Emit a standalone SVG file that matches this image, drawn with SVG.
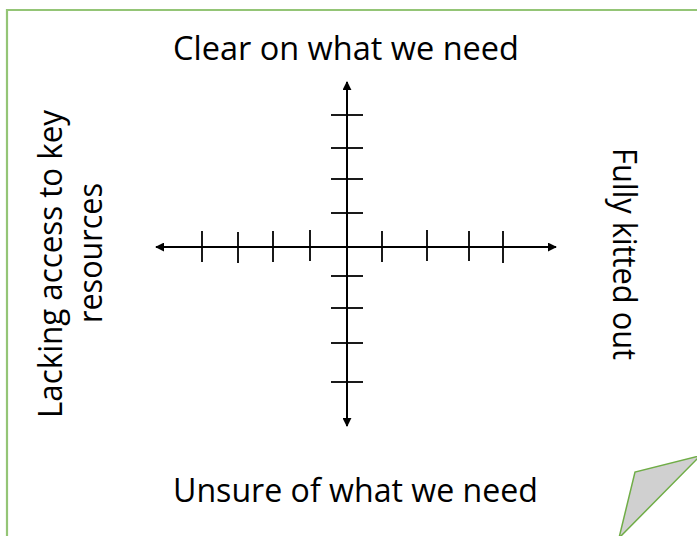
<svg xmlns="http://www.w3.org/2000/svg" width="697" height="536" viewBox="0 0 697 536">
<defs>
<style>
.lbl{font-family:"Open Sans","Liberation Sans",sans-serif;font-size:32px;fill:#000}
.axis{stroke:#000;stroke-width:2;fill:none}
.tick{stroke:#000;stroke-width:1.8;fill:none}
</style>
<marker id="arr" viewBox="0 0 10 10" refX="9" refY="5" markerWidth="4.5" markerHeight="4.5" orient="auto-start-reverse" markerUnits="strokeWidth">
<path d="M0,0 L10,5 L0,10 z" fill="#000"/>
</marker>
</defs>
<rect width="697" height="536" fill="#fff"/>
<g id="frame">
<path d="M7,540 L7,10 L700,10" fill="none" stroke="#94c576" stroke-width="2.2"/>
<polygon points="619,538 635,472 699,456 700,456" fill="#d0d0d0" stroke="#70ad47" stroke-width="1.5"/>
</g>
<g id="connectors">
<line class="axis" x1="156" y1="247" x2="556" y2="247" marker-start="url(#arr)" marker-end="url(#arr)"/>
<line class="axis" x1="347" y1="82" x2="347" y2="426" marker-start="url(#arr)" marker-end="url(#arr)"/>
<g id="ticks-x">
<line class="tick" x1="202" y1="231" x2="202" y2="262"/>
<line class="tick" x1="238" y1="232" x2="238" y2="263"/>
<line class="tick" x1="273" y1="231" x2="273" y2="262"/>
<line class="tick" x1="310" y1="230" x2="310" y2="261"/>
<line class="tick" x1="382" y1="231" x2="382" y2="262"/>
<line class="tick" x1="427" y1="230" x2="427" y2="261"/>
<line class="tick" x1="469" y1="231" x2="469" y2="261"/>
<line class="tick" x1="503" y1="231" x2="503" y2="263"/>
</g>
<g id="ticks-y">
<line class="tick" x1="331" y1="115" x2="363" y2="115"/>
<line class="tick" x1="331" y1="148" x2="363" y2="148"/>
<line class="tick" x1="331" y1="179" x2="363" y2="179"/>
<line class="tick" x1="331" y1="213" x2="363" y2="213"/>
<line class="tick" x1="331" y1="276" x2="363" y2="276"/>
<line class="tick" x1="331" y1="308" x2="363" y2="308"/>
<line class="tick" x1="331" y1="343" x2="363" y2="343"/>
<line class="tick" x1="331" y1="382" x2="363" y2="382"/>
</g>
</g>
<g id="top-label"><text class="lbl" x="173" y="60" textLength="346" lengthAdjust="spacingAndGlyphs">Clear on what we need</text></g>
<g id="bottom-label"><text class="lbl" x="173" y="502" textLength="365" lengthAdjust="spacingAndGlyphs">Unsure of what we need</text></g>
<g id="left-label">
<text class="lbl" transform="translate(62,418) rotate(-90)" x="0" y="0" textLength="308" lengthAdjust="spacingAndGlyphs">Lacking access to key</text>
<text class="lbl" transform="translate(102,323) rotate(-90)" x="0" y="0" textLength="140" lengthAdjust="spacingAndGlyphs">resources</text>
</g>
<g id="right-label"><text class="lbl" transform="translate(613,148) rotate(90)" x="0" y="0" textLength="212" lengthAdjust="spacingAndGlyphs">Fully kitted out</text></g>
</svg>
